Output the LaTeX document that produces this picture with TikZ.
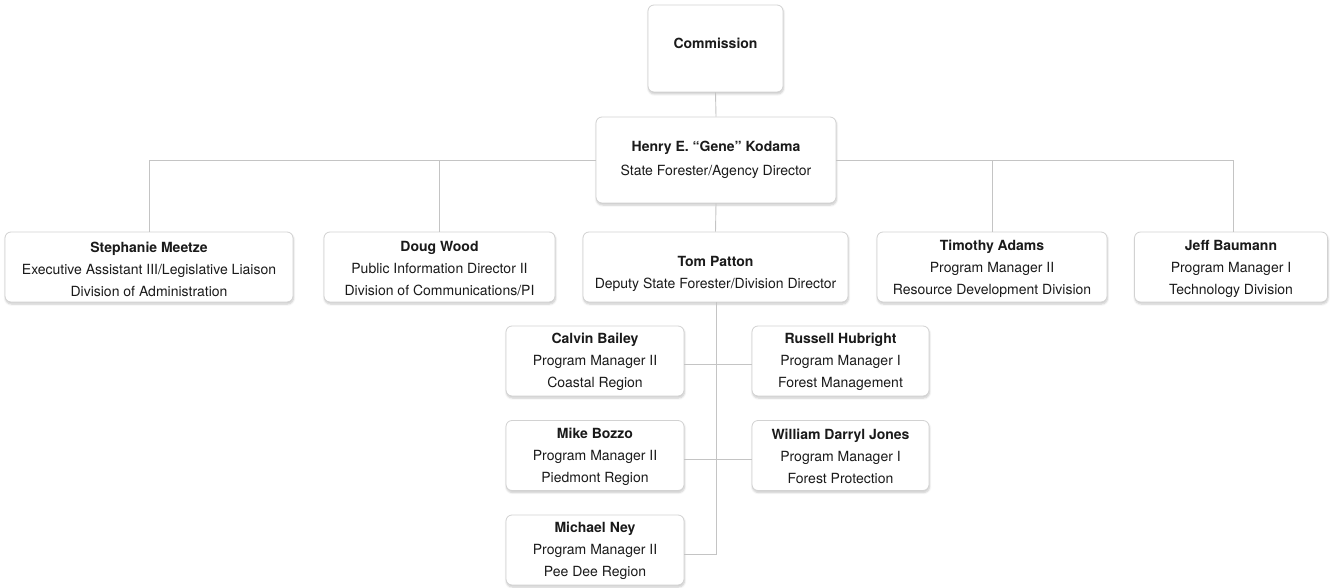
\documentclass[tikz,border=0pt]{standalone}
\usepackage{fontspec}
\setmainfont{TeX Gyre Heros}
\usetikzlibrary{shadows.blur}
\definecolor{linegray}{HTML}{C4C4C4}
\definecolor{boxgray}{HTML}{D2D2D2}
\definecolor{txt}{HTML}{1A1A1A}
\tikzset{
  orgbox/.style={draw=boxgray, line width=0.8pt, fill=white, rounded corners=6pt,
    inner sep=0pt,
    blur shadow={shadow blur steps=6, shadow xshift=0.5pt, shadow yshift=-2pt,
      shadow blur extra rounding=1.5pt, shadow opacity=22}},
  orgtext/.style={align=center, text=txt, inner sep=0pt,
    font=\fontsize{14}{22}\selectfont},
  link/.style={draw=linegray, line width=0.9pt}
}
\newcommand{\nm}[1]{\textbf{#1}}
\begin{document}
\begin{tikzpicture}[x=1pt,y=1pt]
\useasboundingbox (0,0) rectangle (1333,-588);
% boxes
\node[orgbox, minimum width=135pt, minimum height=87pt] (com) at (715.5,-48.5) {};
\node[orgbox, minimum width=240pt, minimum height=86pt] (kod) at (716,-160) {};
\node[orgbox, minimum width=288pt, minimum height=70pt] (mee) at (149,-267) {};
\node[orgbox, minimum width=231pt, minimum height=70pt] (woo) at (439.5,-267) {};
\node[orgbox, minimum width=265pt, minimum height=70pt] (pat) at (715.5,-267) {};
\node[orgbox, minimum width=230pt, minimum height=70pt] (ada) at (992,-267) {};
\node[orgbox, minimum width=193pt, minimum height=70pt] (bau) at (1231,-267) {};
\node[orgbox, minimum width=178pt, minimum height=70pt] (bai) at (595,-361) {};
\node[orgbox, minimum width=177pt, minimum height=70pt] (hub) at (840.5,-361) {};
\node[orgbox, minimum width=178pt, minimum height=70pt] (boz) at (595,-455.5) {};
\node[orgbox, minimum width=177pt, minimum height=70pt] (jon) at (840.5,-455.5) {};
\node[orgbox, minimum width=178pt, minimum height=70pt] (ney) at (595,-550) {};
% texts
\node[orgtext] (tcom) at ([yshift=5pt]com.center) {\nm{Commission}};
\node[orgtext] (tkod) at ([yshift=0pt]kod.center) {\nm{Henry E. “Gene” Kodama}\\[2pt]State Forester/Agency Director};
\node[orgtext] (tmee) at ([yshift=-2pt]mee.center) {\nm{Stephanie Meetze}\\Executive Assistant III/Legislative Liaison\\Division of Administration};
\node[orgtext] (twoo) at ([yshift=-2pt]woo.center) {\nm{Doug Wood}\\Public Information Director II\\Division of Communications/PI};
\node[orgtext] (tpat) at ([yshift=-7pt]pat.center) {\nm{Tom Patton}\\Deputy State Forester/Division Director};
\node[orgtext] (tada) at ([yshift=-2pt]ada.center) {\nm{Timothy Adams}\\Program Manager II\\Resource Development Division};
\node[orgtext] (tbau) at ([yshift=-2pt]bau.center) {\nm{Jeff Baumann}\\Program Manager I\\Technology Division};
\node[orgtext] (tbai) at ([yshift=-1pt]bai.center) {\nm{Calvin Bailey}\\Program Manager II\\Coastal Region};
\node[orgtext] (thub) at ([yshift=-1pt]hub.center) {\nm{Russell Hubright}\\Program Manager I\\Forest Management};
\node[orgtext] (tboz) at ([yshift=-1pt]boz.center) {\nm{Mike Bozzo}\\Program Manager II\\Piedmont Region};
\node[orgtext] (tjon) at ([yshift=-1pt]jon.center) {\nm{William Darryl Jones}\\Program Manager I\\Forest Protection};
\node[orgtext] (tney) at ([yshift=-1pt]ney.center) {\nm{Michael Ney}\\Program Manager II\\Pee Dee Region};
% connectors
\draw[link] (com.south) -- (kod.north);
\draw[link] (kod.west) -| (mee.north);
\draw[link] (kod.west) -| (woo.north);
\draw[link] (kod.east) -| (ada.north);
\draw[link] (kod.east) -| ([xshift=2pt]bau.north);
\draw[link] (kod.south) -- (pat.north);
\draw[link] ([xshift=1pt]pat.south) |- ([yshift=-4pt]ney.east);
\draw[link] ([yshift=-3pt]bai.east) -- ([yshift=-3pt]hub.west);
\draw[link] ([yshift=-3.5pt]boz.east) -- ([yshift=-3.5pt]jon.west);
\end{tikzpicture}
\end{document}
